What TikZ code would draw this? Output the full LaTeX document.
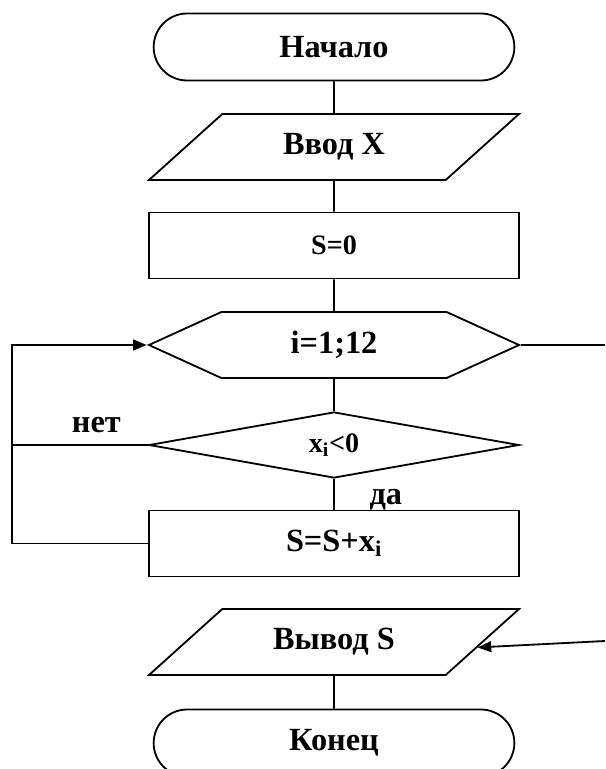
\documentclass[tikz,border=0pt]{standalone}
\usepackage{fontspec}
\setmainfont{Liberation Serif}
\usetikzlibrary{shapes.geometric,shapes.misc,shapes.symbols,arrows.meta,calc}

\begin{document}
\begin{tikzpicture}[x=0.025cm,y=-0.025cm,line width=1.3pt,
    >={Triangle[length=0.34cm,width=0.27cm]},
    big/.style={font=\fontsize{23}{27}\selectfont\bfseries},
    small/.style={font=\fontsize{20}{24}\selectfont\bfseries},
    term/.style={rounded rectangle,draw,big,minimum width=9.25cm,minimum height=1.675cm},
    io/.style={trapezium,trapezium left angle=42,trapezium right angle=138,trapezium stretches body,draw,big,
        text height=15pt,text depth=4pt,inner ysep=14pt,minimum width=9.25cm},
    act/.style={rectangle,draw,minimum width=9.25cm,minimum height=1.65cm},
    loopbox/.style={signal,signal to=west and east,signal pointer angle=49,draw,big,minimum width=9.25cm,minimum height=1.65cm},
    ask/.style={diamond,draw,aspect=5.6,small,minimum width=9.25cm,minimum height=1.65cm,inner sep=0pt}]
    \useasboundingbox (0,0) rectangle (605,769);
    \node[term] (start) at (334,47) {Начало};
    \node[io] (inp) at (334,147) {Ввод X};
    \node[act,small] (s0) at (334,245.5) {S=0};
    \node[loopbox] (loop) at (334,345) {i=1;12};
    \node[ask] (cond) at (334,445) {x\textsubscript{i}<0};
    \node[act,big] (add) at (334,543.5) {S=S+x\textsubscript{i}};
    \node[io] (out) at (334,642) {Вывод S};
    \node[term] (stop) at (334,743) {Конец};
    \coordinate (lft) at (12,0);
    \coordinate (rgt) at (605,0);
    \coordinate (rin) at (605,641);
    \draw (start) -- (inp);
    \draw (inp) -- (s0);
    \draw (s0) -- (loop);
    \draw (loop) -- (cond);
    \draw (cond) -- node[big,right,xshift=0.75cm,yshift=-4pt]{да} (add);
    \draw (cond.west) -- node[big,above,pos=0.38,yshift=5pt]{нет} (cond.west -| lft);
    \draw[->] (add.west) -- (add.west -| lft) |- (loop.west);
    \draw (loop.east) -- (loop.east -| rgt);
    \draw[->] (rin) -- ($(out.top right corner)!0.58!(out.bottom right corner)$);
    \draw (out) -- (stop);
\end{tikzpicture}
\end{document}
